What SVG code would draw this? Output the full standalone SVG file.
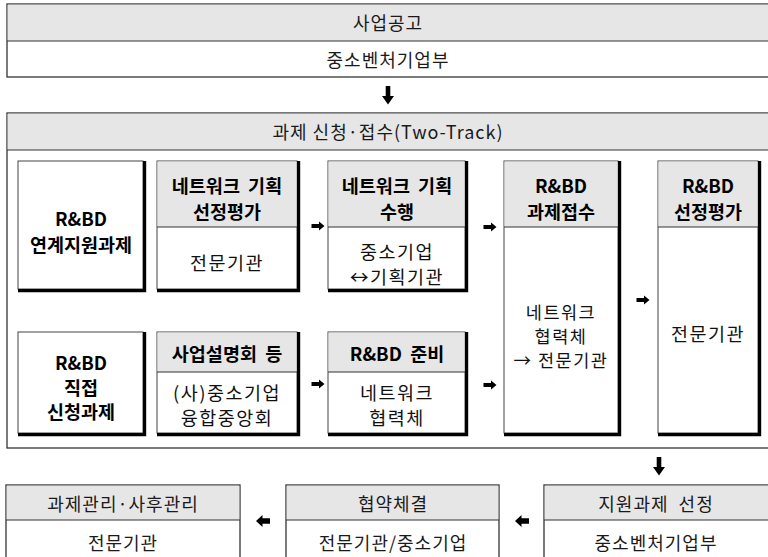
<svg xmlns="http://www.w3.org/2000/svg" width="768" height="557" viewBox="0 0 768 557">
<defs>
<style>
.frame{fill:#fff;stroke:#333;stroke-width:1.3}
.hd{fill:#e6e6e6}
.div{stroke:#333;stroke-width:1.2}
.box{fill:#fff;stroke:#444;stroke-width:1}
.sh{fill:none;stroke:#000;stroke-width:3.2}
.t{font-family:"Noto Sans CJK KR","Noto Sans",sans-serif;font-size:18px;fill:#1a1a1a;text-anchor:middle;dominant-baseline:central;letter-spacing:1px}
.b{font-family:"Noto Sans CJK KR","Noto Sans",sans-serif;font-size:18.5px;font-weight:bold;fill:#000;text-anchor:middle;dominant-baseline:central;word-spacing:4px}
.r{font-family:"Noto Sans CJK KR","Noto Sans",sans-serif;font-size:18.5px;fill:#111;text-anchor:middle;dominant-baseline:central;letter-spacing:1.5px}
.rs{font-size:17.5px}
.ar{fill:#000}
</style>
<path id="ra" d="M-6.5,-2 H1 V-4.5 L6.5,0 L1,4.5 V2 H-6.5 Z"/>
<path id="la" d="M7,-2.8 H-0.5 V-6 L-7,0 L-0.5,6 V2.8 H7 Z"/>
<path id="da" d="M-2.3,-9 H2.3 V1 H6 L0,9.5 L-6,1 H-2.3 Z"/>
</defs>

<g id="top">
<rect class="frame" x="7" y="4" width="780" height="73"/>
<rect class="hd" x="7.7" y="4.7" width="780" height="36.3"/>
<line class="div" x1="7" y1="41" x2="790" y2="41"/>
<text class="t" x="388" y="22">사업공고</text>
<text class="t" x="388" y="59">중소벤처기업부</text>
</g>

<g id="apply">
<rect class="frame" x="7" y="113" width="780" height="335"/>
<rect class="hd" x="7.7" y="113.7" width="780" height="36.3"/>
<line class="div" x1="7" y1="150" x2="790" y2="150"/>
<text class="t" x="388" y="131">과제 신청·접수(Two-Track)</text>
</g>

<g id="nodeA">
<rect class="box" x="18" y="161" width="125" height="128"/>
<path class="sh" d="M144.6,161 V290.6 H18"/>
<text class="b" x="81" y="218">R&amp;BD</text>
<text class="b" x="81" y="244">연계지원과제</text>
</g>

<g id="nodeB">
<rect class="box" x="157" y="161" width="140" height="128"/>
<rect class="hd" x="157.5" y="161.5" width="139" height="65.5"/>
<line class="div" x1="157" y1="227" x2="297" y2="227"/>
<path class="sh" d="M298.6,161 V290.6 H157"/>
<text class="b" x="227" y="185">네트워크 기획</text>
<text class="b" x="227" y="211">선정평가</text>
<text class="r" x="227" y="262">전문기관</text>
</g>

<g id="nodeC">
<rect class="box" x="328" y="161" width="137" height="128"/>
<rect class="hd" x="328.5" y="161.5" width="136" height="65.5"/>
<line class="div" x1="328" y1="227" x2="465" y2="227"/>
<path class="sh" d="M466.6,161 V290.6 H328"/>
<text class="b" x="397" y="185">네트워크 기획</text>
<text class="b" x="397" y="211">수행</text>
<text class="r" x="397" y="251">중소기업</text>
<text class="r" x="397" y="276">↔기획기관</text>
</g>

<g id="nodeD">
<rect class="box" x="504" y="161" width="114" height="272"/>
<rect class="hd" x="504.5" y="161.5" width="113" height="65.5"/>
<line class="div" x1="504" y1="227" x2="618" y2="227"/>
<path class="sh" d="M619.6,161 V434.6 H504"/>
<text class="b" x="561" y="185">R&amp;BD</text>
<text class="b" x="561" y="211">과제접수</text>
<text class="r rs" x="561" y="311">네트워크</text>
<text class="r rs" x="561" y="335">협력체</text>
<text class="r rs" x="561" y="359">→ 전문기관</text>
</g>

<g id="nodeE">
<rect class="box" x="658" y="161" width="100" height="272"/>
<rect class="hd" x="658.5" y="161.5" width="99" height="65.5"/>
<line class="div" x1="658" y1="227" x2="758" y2="227"/>
<path class="sh" d="M759.6,161 V434.6 H658"/>
<text class="b" x="708" y="185">R&amp;BD</text>
<text class="b" x="708" y="211">선정평가</text>
<text class="r" x="708" y="333">전문기관</text>
</g>

<g id="nodeF">
<rect class="box" x="18" y="332" width="125" height="101"/>
<path class="sh" d="M144.6,332 V434.6 H18"/>
<text class="b" x="81" y="362">R&amp;BD</text>
<text class="b" x="81" y="387">직접</text>
<text class="b" x="81" y="411">신청과제</text>
</g>

<g id="nodeG">
<rect class="box" x="157" y="332" width="140" height="101"/>
<rect class="hd" x="157.5" y="332.5" width="139" height="39.5"/>
<line class="div" x1="157" y1="372" x2="297" y2="372"/>
<path class="sh" d="M298.6,332 V434.6 H157"/>
<text class="b" x="227" y="353">사업설명회 등</text>
<text class="r" x="227" y="392">(사)중소기업</text>
<text class="r" x="227" y="417">융합중앙회</text>
</g>

<g id="nodeH">
<rect class="box" x="328" y="332" width="137" height="101"/>
<rect class="hd" x="328.5" y="332.5" width="136" height="39.5"/>
<line class="div" x1="328" y1="372" x2="465" y2="372"/>
<path class="sh" d="M466.6,332 V434.6 H328"/>
<text class="b" x="397" y="353">R&amp;BD 준비</text>
<text class="r" x="397" y="392">네트워크</text>
<text class="r" x="397" y="417">협력체</text>
</g>

<g id="nodeMgmt">
<rect class="frame" x="6" y="485" width="234" height="90"/>
<rect class="hd" x="6.7" y="485.7" width="232.6" height="34.3"/>
<line class="div" x1="6" y1="520" x2="240" y2="520"/>
<text class="t" x="123" y="503">과제관리·사후관리</text>
<text class="t" x="123" y="542">전문기관</text>
</g>

<g id="nodeContract">
<rect class="frame" x="286" y="485" width="213" height="90"/>
<rect class="hd" x="286.7" y="485.7" width="211.6" height="34.3"/>
<line class="div" x1="286" y1="520" x2="499" y2="520"/>
<text class="t" x="393" y="503">협약체결</text>
<text class="t" x="393" y="542">전문기관/중소기업</text>
</g>

<g id="nodeSelect">
<rect class="frame" x="544" y="485" width="240" height="90"/>
<rect class="hd" x="544.7" y="485.7" width="240" height="34.3"/>
<line class="div" x1="544" y1="520" x2="790" y2="520"/>
<text class="t" x="656" y="503" xml:space="preserve">지원과제  선정</text>
<text class="t" x="656" y="542">중소벤처기업부</text>
</g>

<g id="connectors" class="ar">
<use href="#da" x="388" y="95"/>
<use href="#ra" x="318" y="226"/>
<use href="#ra" x="490" y="227"/>
<use href="#ra" x="643" y="300"/>
<use href="#ra" x="318" y="384"/>
<use href="#ra" x="490" y="385"/>
<use href="#da" x="659" y="466"/>
<use href="#la" x="263" y="521"/>
<use href="#la" x="522" y="521"/>
</g>
</svg>
